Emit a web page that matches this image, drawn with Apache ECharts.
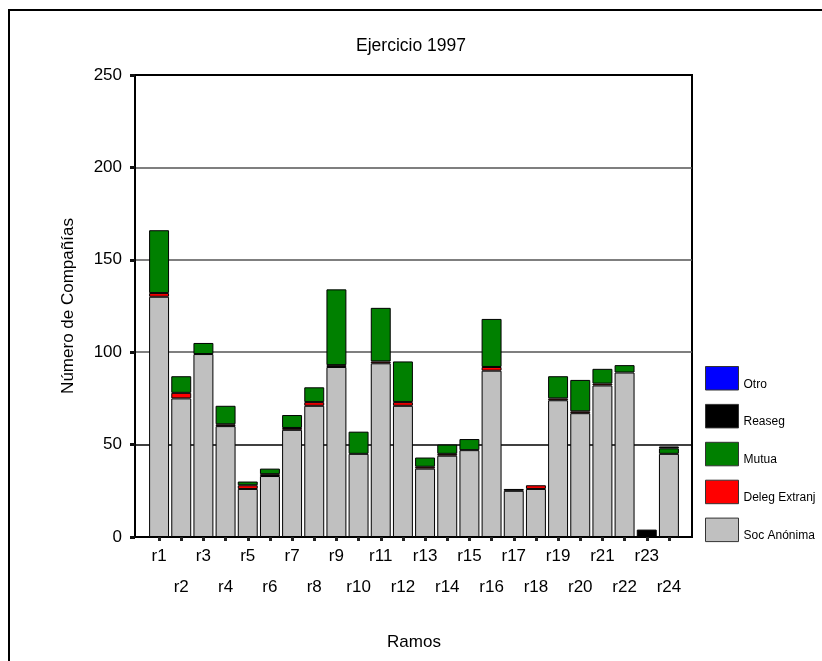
<!DOCTYPE html>
<html>
<head>
<meta charset="utf-8">
<script src="https://cdn.jsdelivr.net/npm/echarts@6/dist/echarts.min.js"></script>
<style>html,body{margin:0;padding:0;background:#fff}#c{width:822px;height:661px}</style>
</head>
<body>
<div id="c"></div>
<script>
const categories = ['r1','r2','r3','r4','r5','r6','r7','r8','r9','r10','r11','r12','r13','r14','r15','r16','r17','r18','r19','r20','r21','r22','r23','r24'];
const socAnonima   = [130,75,99,60,26,33,58,71,92,45,94,71,37,44,47,90,25,26,74,67,82,89,0,45];
const delegExtranj = [2,3,0,1,2,1,1,2,1,0,1,2,1,1,0,2,0,2,1,1,1,0,0,0];
const mutua        = [34,9,6,10,2,3,7,8,41,12,29,22,5,5,6,26,0,0,12,17,8,4,0,3];
const reaseg       = [0,0,0,0,0,0,0,0,0,0,0,0,0,0,0,0,1,0,0,0,0,0,4,1];
const otro         = [0,0,0,0,0,0,0,0,0,0,0,0,0,0,0,0,0,0,0,0,0,0,0,0];
const yTicks = [0,50,100,150,200,250];

const FONT = "'Liberation Sans', Arial, sans-serif";
const chart = echarts.init(document.getElementById('c'), null, {renderer:'canvas'});
const nz = a => a.map(v => v === 0 ? '-' : v);
const mk = (name, data, color) => ({
  name, type:'bar', stack:'t', xAxisIndex:1, yAxisIndex:1,
  data: nz(data), barCategoryGap:'10%',
  itemStyle:{color, borderColor:'#000', borderWidth:1},
  emphasis:{disabled:true}
});
chart.setOption({
  animation:false,
  textStyle:{fontFamily:FONT},
  title:{text:'Ejercicio 1997', left:'center', top:32,
    textStyle:{fontSize:17.5, fontWeight:'normal', color:'#000', fontFamily:FONT}},
  graphic:[{type:'rect', shape:{x:9, y:10, width:830, height:670},
    style:{fill:'none', stroke:'#000', lineWidth:2}, silent:true}],
  legend:{orient:'vertical', left:705, top:366, padding:0, itemWidth:33, itemHeight:23.5, itemGap:13.4,
    icon:'rect', data:['Otro','Reaseg','Mutua','Deleg Extranj','Soc Anónima'],
    itemStyle:{borderColor:'#333', borderWidth:1},
    formatter: n => '\n' + n,
    textStyle:{fontSize:12, color:'#000', fontFamily:FONT, lineHeight:12}, selectedMode:false},
  grid:[
    {left:135, top:75, right:130, bottom:124, show:true, borderColor:'#000', borderWidth:2, backgroundColor:'transparent'},
    {left:148, top:75, right:142, bottom:124}
  ],
  xAxis:[
    {type:'value', gridIndex:0, min:0, max:1, show:false},
    {type:'category', gridIndex:1, data:categories, boundaryGap:true,
      axisLine:{show:false},
      axisTick:{show:true, alignWithLabel:true, length:4, lineStyle:{color:'#222', width:3}},
      axisLabel:{interval:0, margin:4, fontSize:17, color:'#000', fontFamily:FONT, lineHeight:31,
        formatter:(v, i) => (i % 2 === 1 ? '\n' + v : v)},
      name:'Ramos', nameLocation:'middle', nameGap:97,
      nameTextStyle:{fontSize:17, color:'#000', fontFamily:FONT}}
  ],
  yAxis:[
    {type:'value', gridIndex:0, min:yTicks[0], max:yTicks[yTicks.length-1], interval:50,
      axisLine:{show:true, lineStyle:{color:'#000', width:2}},
      axisTick:{show:true, length:5, lineStyle:{color:'#111', width:3}},
      axisLabel:{fontSize:17, color:'#000', margin:13, fontFamily:FONT},
      splitLine:{show:true, lineStyle:{color:['#000','#000','#555','#555','#555','#000'], width:1.5}},
      name:'Número de Compañías', nameLocation:'middle', nameGap:58,
      nameTextStyle:{fontSize:17, color:'#000', fontFamily:FONT}},
    {type:'value', gridIndex:1, min:0, max:250, show:false, splitLine:{show:false}}
  ],
  series:[
    mk('Soc Anónima', socAnonima, '#C0C0C0'),
    mk('Deleg Extranj', delegExtranj, '#FF0000'),
    mk('Mutua', mutua, '#008000'),
    mk('Reaseg', reaseg, '#000000'),
    mk('Otro', otro, '#0000FF')
  ]
});
</script>
</body>
</html>
